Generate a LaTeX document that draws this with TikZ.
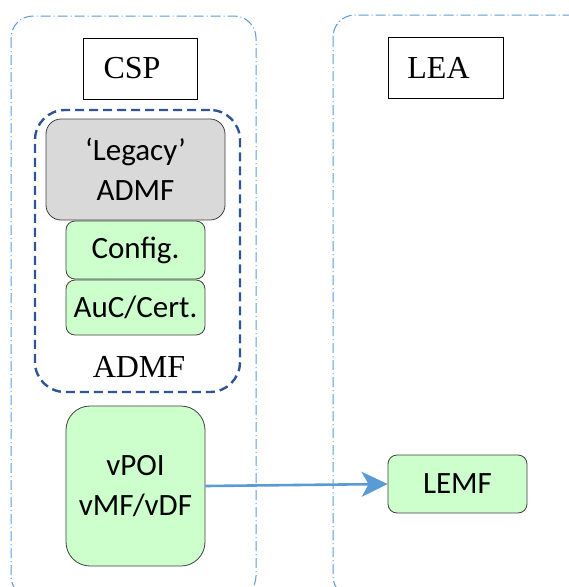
\documentclass[tikz,border=0pt]{standalone}
\usepackage{fontspec}
\setmainfont{Liberation Serif}
\newfontfamily\calib{Carlito}
\usetikzlibrary{arrows.meta}
\definecolor{zoneblue}{HTML}{5B9BD5}
\definecolor{admfblue}{HTML}{2F5597}
\definecolor{boxgreen}{HTML}{CCFFCC}
\definecolor{boxgray}{HTML}{D9D9D9}
\definecolor{edge}{HTML}{404040}
\tikzset{
  zone/.style={draw=zoneblue, line width=1pt, rounded corners=22pt,
    dash pattern=on 10pt off 3pt on 1pt off 3pt},
  titlebox/.style={draw=black, line width=1pt, fill=white, inner sep=0pt,
    font=\fontsize{32}{36}\selectfont},
  func/.style={draw=edge, line width=0.8pt, fill=boxgreen, inner sep=0pt,
    align=center, font=\calib\fontsize{31}{40}\selectfont},
  legacy/.style={func, fill=boxgray, rounded corners=15pt},
  group/.style={draw=admfblue, line width=2.4pt, rounded corners=30pt,
    dash pattern=on 9pt off 5pt, inner sep=0pt},
  link/.style={draw=zoneblue, line width=2.6pt,
    -{Stealth[length=26pt, width=25pt, inset=7pt]}}
}
\begin{document}
\begin{tikzpicture}[x=1pt, y=-1pt]
  \useasboundingbox (0,0) rectangle (569,587);
  \clip (0,0) rectangle (569,587);

  % operator and authority zones
  \draw[zone] (11,16) rectangle (256,598);
  \draw[zone] (333,15) rectangle (592,598);

  % zone titles
  \node[titlebox, minimum width=114pt, minimum height=61pt] (csp) at (140,68.5) {CSP\hspace*{16pt}};
  \node[titlebox, minimum width=115pt, minimum height=61pt] (lea) at (445.5,67.5) {LEA\hspace*{14pt}};

  % ADMF group
  \node[group, minimum width=205pt, minimum height=282pt] (admf) at (137.5,251) {};
  \node[font=\fontsize{32}{36}\selectfont] (admflabel) at (139,367) {ADMF};

  \node[legacy, minimum width=179pt, minimum height=101pt] (legacyadmf) at (135.5,169.5)
    {‘Legacy’\\ADMF};
  \node[func, rounded corners=9pt, minimum width=139pt, minimum height=58pt] (config) at (135.5,250) {Config.};
  \node[func, rounded corners=9pt, minimum width=139pt, minimum height=55pt] (auc) at (135.5,307.5) {AuC/Cert.};

  % virtual point of interception and receiving facility
  \node[func, rounded corners=24pt, minimum width=139pt, minimum height=160pt] (vpoi) at (135.5,486)
    {vPOI\\vMF/vDF};
  \node[func, rounded corners=9pt, minimum width=139pt, minimum height=58pt] (lemf) at (457.5,484) {LEMF};

  \draw[link] (vpoi.east) -- (lemf.west);
\end{tikzpicture}
\end{document}
